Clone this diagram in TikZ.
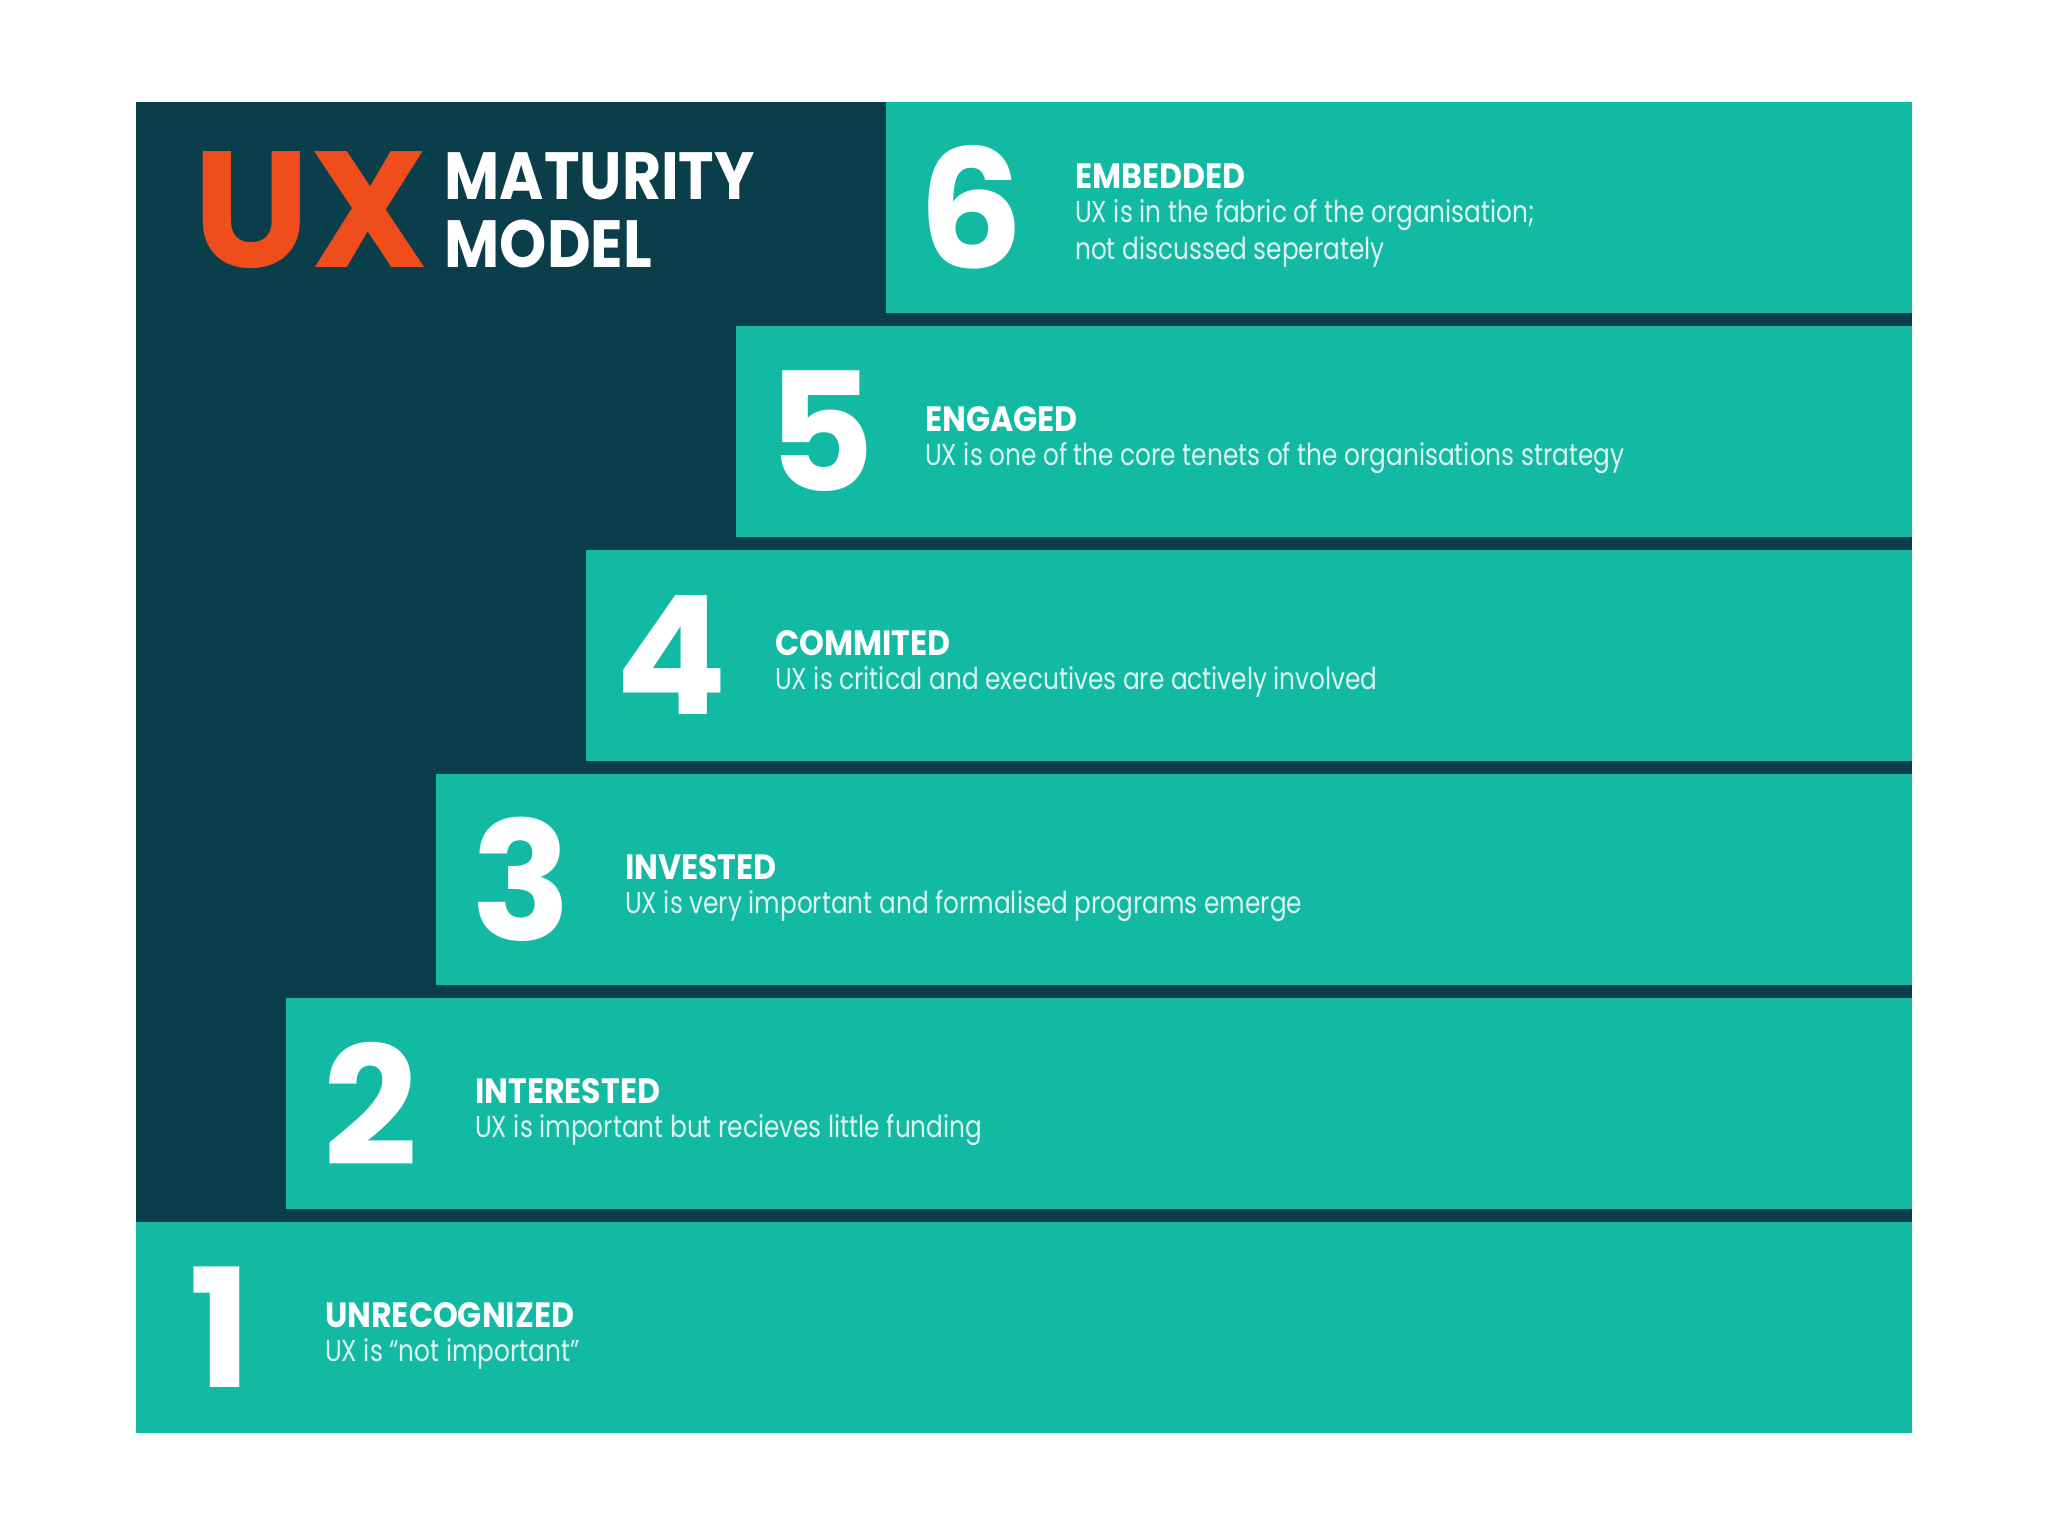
\documentclass[tikz,border=0pt]{standalone}
\usepackage{fontspec}
\setmainfont{Poppins}
\newfontfamily\headfont[FakeStretch=0.9]{Poppins}
\newfontfamily\descfont[FakeStretch=0.82]{Poppins}
\usepackage{xcolor}
\usetikzlibrary{calc, positioning}

\definecolor{uxnavy}{HTML}{0A3E4B}
\definecolor{uxteal}{HTML}{13BAA3}
\definecolor{uxorange}{HTML}{EF4E1C}
\definecolor{uxdesc}{HTML}{DDF4EF}

\begin{document}
\begin{tikzpicture}[
    numeral/.style={text=white, inner sep=0pt, font=\fontsize{47}{47}\selectfont\bfseries},
    stagetext/.style={anchor=west, align=left, inner sep=0pt, text=uxdesc,
                      font=\descfont\fontsize{8.6}{10.6}\selectfont},
    titletext/.style={anchor=south west, align=left, inner sep=0pt, text depth=0pt, text=white,
                      font=\headfont\fontsize{19}{19.3}\selectfont\bfseries}
]
    % Khung nen trang va khoi mau xanh dam
    \useasboundingbox (0,0) rectangle (20.48,15.36);
    \fill[white] (0,0) rectangle (20.48,15.36);
    \fill[uxnavy] (1.36,1.03) rectangle (19.12,14.34);

    % Tieu de
    \node[anchor=base west, inner sep=0pt, text=uxorange,
          font=\fontsize{47}{47}\selectfont\bfseries] (ux) at (1.93,12.68) {UX};
    \node[titletext] (title) at (4.44,12.68) {MATURITY\\MODEL};

    % Cac bac thang 1 -> 6
    \foreach \k/\head/\desc in {
        1/UNRECOGNIZED/{UX is “not important”},
        2/INTERESTED/{UX is important but recieves little funding},
        3/INVESTED/{UX is very important and formalised programs emerge},
        4/COMMITED/{UX is critical and executives are actively involved},
        5/ENGAGED/{UX is one of the core tenets of the organisations strategy},
        6/EMBEDDED/{UX is in the fabric of the organisation;\\not discussed seperately}} {
        \pgfmathsetmacro{\xl}{1.36+(\k-1)*1.5}
        \pgfmathsetmacro{\yb}{1.03+(\k-1)*2.24}
        \pgfmathsetmacro{\yc}{\yb+0.97}
        \fill[uxteal] (\xl,\yb) rectangle (19.12,\yb+2.11);
        \node[numeral] (n\k) at (\xl+0.85,\yb+1.055) {\k};
        \node[stagetext] (t\k) at (\xl+1.885,\yc)
            {{\headfont\fontsize{10}{10}\selectfont\bfseries\color{white}\head}\\[-1pt]
             \desc};
    }
\end{tikzpicture}
\end{document}
